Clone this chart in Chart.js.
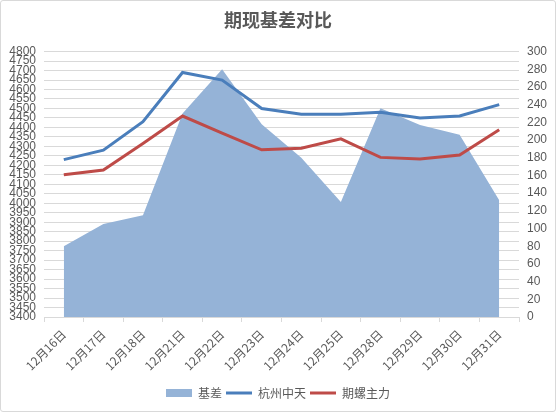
<!DOCTYPE html>
<html>
<head>
<meta charset="utf-8">
<script src="https://cdn.jsdelivr.net/npm/chart.js@4/dist/chart.umd.min.js"></script>
<style>
    html, body { margin: 0; padding: 0; background: #ffffff; }
    #wrap {
        width: 556px; height: 412px; box-sizing: border-box;
        border: 1px solid #d9d9d9; border-radius: 3px; background: #fff;
    }
</style>
</head>
<body>
<div id="wrap"><canvas id="grafik" width="554" height="410"></canvas></div>
<script>
// ====== DATA ======
const tanggal = ["12月16日", "12月17日", "12月18日", "12月21日", "12月22日", "12月23日",
                 "12月24日", "12月25日", "12月28日", "12月29日", "12月30日", "12月31日"];
const hangzhou = [4230, 4280, 4430, 4690, 4650, 4500, 4470, 4470, 4480, 4450, 4460, 4520];
const qiluo = [4150, 4175, 4315, 4460, 4370, 4282, 4290, 4340, 4242, 4233, 4254, 4388];
const jicha = [80, 105, 115, 230, 280, 218, 180, 130, 236, 217, 206, 132];

const teks = "#595959";
const garis = "#d9d9d9";

const ctx = document.getElementById("grafik");

new Chart(ctx, {
    type: "line",
    data: {
        labels: tanggal,
        datasets: [{
            label: "基差",
            data: jicha,
            yAxisID: "y1",
            fill: "origin",
            backgroundColor: "#95b3d7",
            borderWidth: 0,
            pointRadius: 0,
            tension: 0
        }, {
            label: "杭州中天",
            data: hangzhou,
            yAxisID: "y",
            borderColor: "#4a7ebb",
            backgroundColor: "#4a7ebb",
            borderWidth: 3,
            pointRadius: 0,
            fill: false,
            tension: 0
        }, {
            label: "期螺主力",
            data: qiluo,
            yAxisID: "y",
            borderColor: "#be4b48",
            backgroundColor: "#be4b48",
            borderWidth: 3,
            pointRadius: 0,
            fill: false,
            tension: 0
        }]
    },
    options: {
        responsive: false,
        animation: false,
        layout: { padding: { left: 8, right: 8, top: 0, bottom: 2 } },
        plugins: {
            filler: { drawTime: "beforeDatasetsDraw" },
            tooltip: { enabled: false },
            title: {
                display: true,
                text: "期现基差对比",
                color: teks,
                font: { family: "'Noto Sans CJK SC'", size: 18, weight: "bold" },
                padding: { top: 8, bottom: 21 }
            },
            legend: {
                position: "bottom",
                labels: {
                    color: teks,
                    font: { family: "'Noto Sans CJK SC'", size: 12 },
                    usePointStyle: true,
                    pointStyleWidth: 26,
                    boxHeight: 8,
                    padding: 4,
                    generateLabels: chart => chart.data.datasets.map((ds, i) => ({
                        text: ds.label,
                        datasetIndex: i,
                        fillStyle: ds.backgroundColor,
                        strokeStyle: i === 0 ? "rgba(0,0,0,0)" : ds.borderColor,
                        lineWidth: i === 0 ? 0 : 3,
                        pointStyle: i === 0 ? "rect" : "line",
                        fontColor: teks,
                        hidden: false
                    }))
                }
            }
        },
        scales: {
            x: {
                offset: true,
                afterFit: scale => {
                    scale.height += 5;
                    scale.paddingLeft = 0;
                    scale.paddingRight = 0;
                },
                grid: {
                    offset: true,
                    drawOnChartArea: false,
                    drawTicks: true,
                    tickLength: 5,
                    color: garis
                },
                border: { color: garis },
                ticks: {
                    color: teks,
                    font: { family: "'Noto Sans CJK SC'", size: 12 },
                    minRotation: 45,
                    maxRotation: 45,
                    autoSkip: false,
                    padding: 5
                }
            },
            y: {
                position: "left",
                min: 3400,
                max: 4800,
                afterFit: scale => { scale.width = 35; },
                grid: { color: garis, drawTicks: false, tickLength: 0 },
                border: { display: false },
                ticks: {
                    stepSize: 50,
                    maxTicksLimit: 100,
                    autoSkip: false,
                    color: teks,
                    padding: 8,
                    font: { family: "'Liberation Sans'", size: 12 },
                    callback: v => String(v)
                }
            },
            y1: {
                position: "right",
                min: 0,
                max: 300,
                afterFit: scale => { scale.width = 28; },
                grid: { drawOnChartArea: false, drawTicks: false, tickLength: 0 },
                border: { display: false },
                ticks: {
                    stepSize: 20,
                    autoSkip: false,
                    color: teks,
                    padding: 8,
                    font: { family: "'Liberation Sans'", size: 12 },
                    callback: v => String(v)
                }
            }
        }
    }
});
</script>
</body>
</html>
